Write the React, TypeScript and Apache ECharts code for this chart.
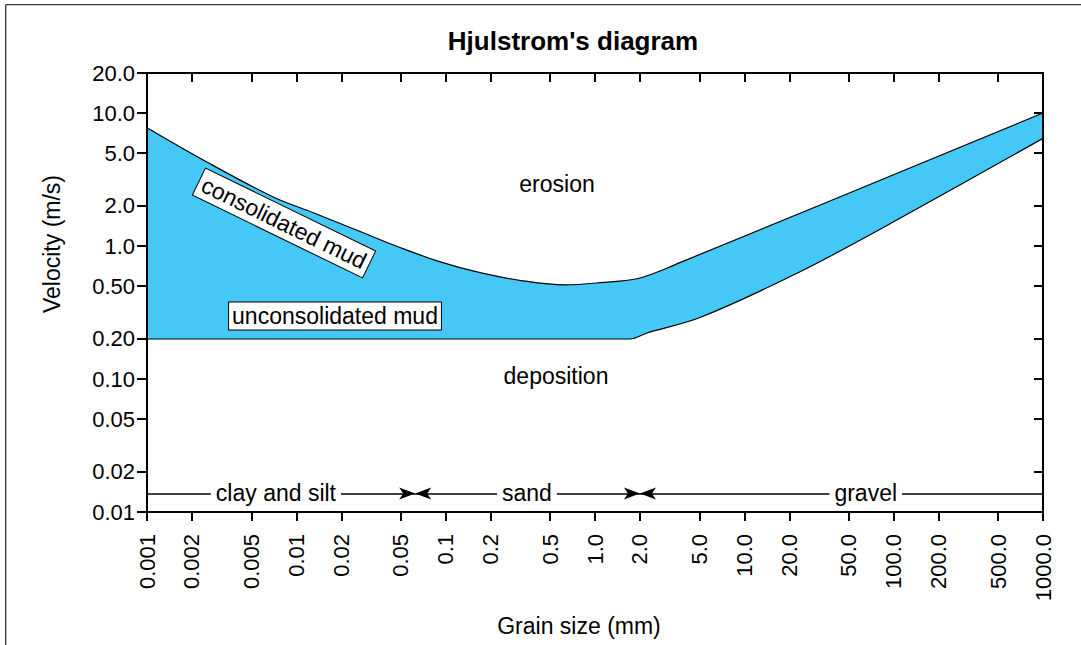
import React, { useEffect, useRef } from 'react';
import * as echarts from 'echarts';

const FONT = '"Liberation Sans", Arial, Helvetica, sans-serif';

// Axis ticks
const xTickValues = [0.001, 0.002, 0.005, 0.01, 0.02, 0.05, 0.1, 0.2, 0.5, 1, 2, 5, 10, 20, 50, 100, 200, 500, 1000];
const xTickLabels = ['0.001', '0.002', '0.005', '0.01', '0.02', '0.05', '0.1', '0.2', '0.5', '1.0', '2.0', '5.0', '10.0', '20.0', '50.0', '100.0', '200.0', '500.0', '1000.0'];
const yTickValues = [0.01, 0.02, 0.05, 0.1, 0.2, 0.5, 1, 2, 5, 10, 20];
const yTickLabels = ['0.01', '0.02', '0.05', '0.10', '0.20', '0.50', '1.0', '2.0', '5.0', '10.0', '20.0'];

// Erosion threshold (upper boundary of the band)
const upperGrain = [0.001, 0.0025, 0.007, 0.013, 0.027, 0.05, 0.092, 0.17, 0.32, 0.63, 1.08, 2.0, 3.7, 1000];
const upperVelocity = [7.75, 4.3, 2.34, 1.78, 1.28, 0.97, 0.76, 0.63, 0.55, 0.51, 0.53, 0.575, 0.75, 10];

// Deposition threshold (lower boundary of the band)
const lowerGrain = [0.001, 1.72, 2.23, 5.05, 23.6, 100, 1000];
const lowerVelocity = [0.2, 0.2, 0.222, 0.29, 0.64, 1.52, 6.45];

// Grain size classes
const classNames = ['clay and silt', 'sand', 'gravel'];
const classBounds = [0.001, 0.0625, 2, 1000];
const classLineVelocity = 0.0138;
const classLabelGrain = [0.0073, 0.35, 65];

const fmt = (values: number[], labels: string[]) => (v: number) => {
  let best = 0;
  let bd = Infinity;
  values.forEach((t, i) => {
    const d = Math.abs(Math.log10(v) - Math.log10(t));
    if (d < bd) { bd = d; best = i; }
  });
  return labels[best];
};

const axisLineStyle = { color: '#000', width: 2 };
const tickStyle = { color: '#000', width: 2 };
const BLUE = '#45c8f5';

export default function App() {
  const ref = useRef<HTMLDivElement>(null);
  useEffect(() => {
    const chart = echarts.init(ref.current!, null, { renderer: 'svg' });
    const option: any = {
      animation: false,
      backgroundColor: '#fff',
      title: {
        text: "Hjulstrom's diagram",
        left: 568,
        top: 23,
        textAlign: 'center',
        textStyle: { fontSize: 26, fontWeight: 'bold', fontFamily: FONT, color: '#000' },
      },
      grid: { left: 147, right: 38, top: 73, bottom: 133, containLabel: false, outerBoundsMode: 'none' },
      xAxis: [
        {
          type: 'log', logBase: 10, min: 0.001, max: 1000, position: 'bottom', z: 5,
          axisLine: { show: true, onZero: false, lineStyle: axisLineStyle },
          axisTick: { show: true, inside: false, length: 9, lineStyle: tickStyle, customValues: xTickValues },
          axisLabel: {
            show: true, rotate: 90, margin: 22, customValues: xTickValues,
            formatter: fmt(xTickValues, xTickLabels), color: '#000', fontSize: 22, fontFamily: FONT,
          },
          splitLine: { show: false }, minorTick: { show: false }, minorSplitLine: { show: false },
        },
        {
          type: 'log', logBase: 10, min: 0.001, max: 1000, position: 'top', z: 5,
          axisLine: { show: true, onZero: false, lineStyle: axisLineStyle },
          axisTick: { show: true, inside: true, length: 9, lineStyle: tickStyle, customValues: xTickValues },
          axisLabel: { show: false },
          splitLine: { show: false }, minorTick: { show: false }, minorSplitLine: { show: false },
        },
      ],
      yAxis: [
        {
          type: 'log', logBase: 10, min: 0.01, max: 20, position: 'left', z: 5,
          axisLine: { show: true, onZero: false, lineStyle: axisLineStyle },
          axisTick: { show: true, inside: false, length: 10, lineStyle: tickStyle, customValues: yTickValues },
          axisLabel: {
            show: true, margin: 12, customValues: yTickValues,
            formatter: fmt(yTickValues, yTickLabels), color: '#000', fontSize: 22, fontFamily: FONT,
          },
          splitLine: { show: false }, minorTick: { show: false }, minorSplitLine: { show: false },
        },
        {
          type: 'log', logBase: 10, min: 0.01, max: 20, position: 'right', z: 5,
          axisLine: { show: true, onZero: false, lineStyle: axisLineStyle },
          axisTick: { show: true, inside: true, length: 9, lineStyle: tickStyle, customValues: yTickValues },
          axisLabel: { show: false },
          splitLine: { show: false }, minorTick: { show: false }, minorSplitLine: { show: false },
        },
      ],
      series: [
        {
          type: 'line', name: 'erosion threshold', silent: true, symbol: 'none', z: 2,
          smooth: 0.35,
          data: upperGrain.map((g, i) => [g, upperVelocity[i]]),
          lineStyle: { color: '#000', width: 1.2 },
          areaStyle: { color: BLUE, opacity: 1, origin: 'start' },
        },
        {
          type: 'line', name: 'deposition threshold', silent: true, symbol: 'none', z: 2,
          smooth: 0.3,
          data: lowerGrain.map((g, i) => [g, lowerVelocity[i]]),
          lineStyle: { color: '#000', width: 1.2 },
          areaStyle: { color: '#fff', opacity: 1, origin: 'start' },
          markLine: {
            silent: true,
            symbolSize: [9, 16],
            label: { show: false },
            emphasis: { disabled: true },
            lineStyle: { color: '#000', width: 1.5, type: 'solid' },
            data: classNames.map((n, i) => [
              { coord: [classBounds[i], classLineVelocity], symbol: i === 0 ? 'none' : 'arrow' },
              { coord: [classBounds[i + 1], classLineVelocity], symbol: i === classNames.length - 1 ? 'none' : 'arrow' },
            ]),
          },
        },
        {
          type: 'scatter', silent: true, z: 10, symbolSize: 1,
          itemStyle: { color: 'transparent', opacity: 1 },
          data: classNames.map((n, i) => ({ name: n, value: [classLabelGrain[i], classLineVelocity] })),
          label: {
            show: true, position: 'inside', formatter: '{b}', color: '#000', opacity: 1,
            fontSize: 23, fontFamily: FONT, backgroundColor: '#fff', padding: [2, 5],
          },
        },
      ],
      graphic: [
        { type: 'line', silent: true, shape: { x1: 5.7, y1: 4.7, x2: 1081, y2: 4.7 }, style: { stroke: '#333', lineWidth: 1.3 } },
        { type: 'line', silent: true, shape: { x1: 5.7, y1: 4.7, x2: 5.7, y2: 645 }, style: { stroke: '#333', lineWidth: 1.3 } },
        {
          type: 'text', x: 52, y: 244, rotation: Math.PI / 2, silent: true,
          style: { text: 'Velocity (m/s)', font: `23px ${FONT}`, fill: '#000', textAlign: 'center', textVerticalAlign: 'middle' },
        },
        {
          type: 'text', x: 579, y: 626, silent: true,
          style: { text: 'Grain size (mm)', font: `23px ${FONT}`, fill: '#000', textAlign: 'center', textVerticalAlign: 'middle' },
        },
        {
          type: 'text', x: 557, y: 184, silent: true, z: 50,
          style: { text: 'erosion', font: `23px ${FONT}`, fill: '#000', textAlign: 'center', textVerticalAlign: 'middle' },
        },
        {
          type: 'text', x: 556, y: 376, silent: true, z: 50,
          style: { text: 'deposition', font: `23px ${FONT}`, fill: '#000', textAlign: 'center', textVerticalAlign: 'middle' },
        },
        {
          type: 'text', x: 284, y: 223, rotation: (-26 * Math.PI) / 180, silent: true, z: 50,
          style: {
            text: 'consolidated mud', font: `23px ${FONT}`, fill: '#000', textAlign: 'center', textVerticalAlign: 'middle',
            backgroundColor: '#fff', borderColor: '#000', borderWidth: 1, padding: [3, 4],
          },
        },
        {
          type: 'text', x: 335, y: 316, silent: true, z: 50,
          style: {
            text: 'unconsolidated mud', font: `23px ${FONT}`, fill: '#000', textAlign: 'center', textVerticalAlign: 'middle',
            backgroundColor: '#fff', borderColor: '#000', borderWidth: 1, padding: [2, 3],
          },
        },
      ],
    };
    chart.setOption(option);
    return () => chart.dispose();
  }, []);
  return <div ref={ref} style={{ position: 'fixed', left: 0, top: 0, width: 1081, height: 645, background: '#fff' }} />;
}
